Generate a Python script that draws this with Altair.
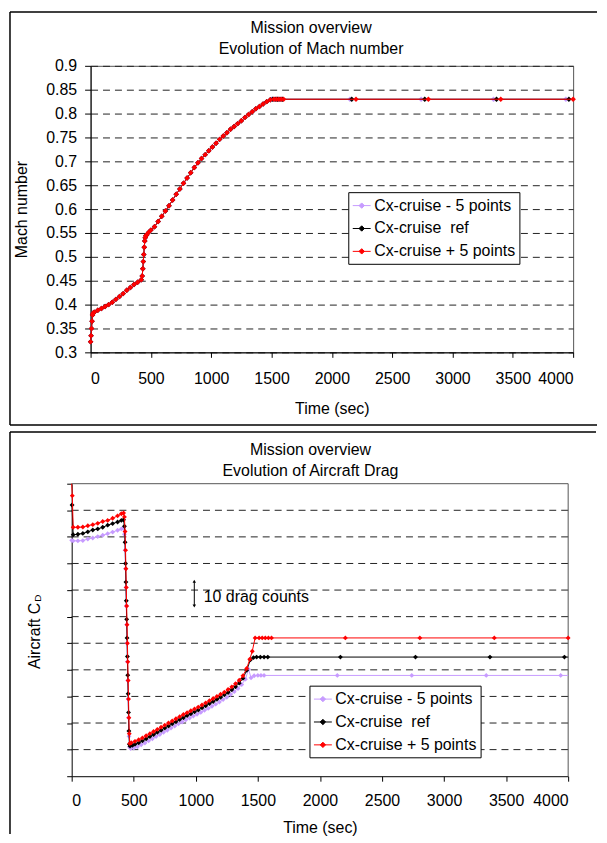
import altair as alt
import pandas as pd

FONT = "Liberation Sans"
FS = 16

series_names = ["Cx-cruise - 5 points", "Cx-cruise\u00a0 ref", "Cx-cruise + 5 points"]
series_colors = ["#C79BFF", "#000000", "#FF0000"]

time_ticks = [0, 500, 1000, 1500, 2000, 2500, 3000, 3500, 4000]
mach_ticks = [0.3, 0.35, 0.4, 0.45, 0.5, 0.55, 0.6, 0.65, 0.7, 0.75, 0.8, 0.85, 0.9]
drag_ticks = [0, 10, 20, 30, 40, 50, 60, 70, 80, 90, 100, 110]

top_title = ["Mission overview", "Evolution of Mach number"]
bottom_title = ["Mission overview", "Evolution of Aircraft Drag"]

# ---------------- Mach number (climb shared by the three runs) ----------------
mach_climb_time = [0, 4, 8, 12, 16, 20, 30, 60, 90, 120, 150, 180, 210, 240, 270, 300,
                   330, 360, 390, 420, 428, 433, 437, 441, 445, 449, 453, 458, 465, 480,
                   500, 530, 560, 590, 620, 650, 680, 710, 740, 770, 800, 830, 860, 890,
                   920, 950, 980, 1010, 1040, 1070, 1100, 1130, 1160, 1190, 1220, 1250,
                   1280, 1310, 1340, 1370, 1400, 1430, 1460, 1490]
mach_climb_value = [0.322, 0.335, 0.350, 0.365, 0.378, 0.382, 0.384, 0.388, 0.392, 0.396,
                    0.400, 0.405, 0.411, 0.417, 0.423, 0.430, 0.436, 0.442, 0.447, 0.452,
                    0.460, 0.475, 0.490, 0.505, 0.520, 0.533, 0.540, 0.544, 0.546, 0.551,
                    0.556, 0.563, 0.574, 0.585, 0.596, 0.607, 0.619, 0.631, 0.642, 0.654,
                    0.665, 0.676, 0.687, 0.697, 0.706, 0.714, 0.722, 0.730, 0.738, 0.746,
                    0.753, 0.760, 0.767, 0.773, 0.779, 0.785, 0.792, 0.798, 0.804, 0.810,
                    0.815, 0.820, 0.825, 0.829]
mach_cruise_time_minus = [1500, 1520, 1540, 1560, 1580, 2150, 2740, 3340, 3940]
mach_cruise_value_minus = [0.83, 0.83, 0.83, 0.83, 0.83, 0.83, 0.83, 0.83, 0.83]
mach_cruise_time_ref = [1510, 1530, 1550, 1570, 1590, 2165, 2770, 3365, 3965]
mach_cruise_value_ref = [0.83, 0.83, 0.83, 0.83, 0.83, 0.83, 0.83, 0.83, 0.83]
mach_cruise_time_plus = [1520, 1540, 1560, 1580, 1600, 2200, 2800, 3400, 4000]
mach_cruise_value_plus = [0.83, 0.83, 0.83, 0.83, 0.83, 0.83, 0.83, 0.83, 0.83]

# ---------------- Aircraft drag (in drag counts, 10 per grid line) ----------------
drag_time_minus = [0, 12, 50, 90, 130, 170, 210, 250, 290, 330, 370, 400, 418,
                   425, 430, 434, 437, 440, 443, 446, 449, 452, 455, 458, 462, 467,
                   475, 500, 530, 560, 590, 620, 650, 680, 710, 740, 770, 800, 830,
                   860, 890, 920, 950, 980, 1010, 1040, 1070, 1100, 1130, 1160, 1190,
                   1220, 1250, 1280, 1310, 1340, 1370, 1400, 1425, 1445, 1470, 1500,
                   1525, 1550, 2140, 2740, 3340, 3940]
drag_value_minus = [88.7, 88.5, 88.5, 88.6, 89.2, 89.6, 90.1, 90.6, 91.2, 91.8, 92.5, 93.0, 93.4,
                    91, 85, 78, 71, 64, 57, 50, 43, 36, 29, 22, 15, 11,
                    10.4, 10.6, 11.1, 11.8, 12.5, 13.3, 14.1, 14.9, 15.7, 16.5, 17.3, 18.1, 18.9,
                    19.7, 20.4, 21.2, 21.9, 22.6, 23.3, 24.0, 24.8, 25.5, 26.3, 27.1, 27.9,
                    28.8, 29.7, 30.7, 31.8, 33.0, 34.5, 36.5, 40.2, 37.0, 37.8, 37.9,
                    37.9, 37.9, 37.9, 37.9, 37.9, 37.9]
drag_line_end_time_minus = [4000]
drag_line_end_value_minus = [37.9]

drag_time_ref = [3, 12, 50, 90, 130, 170, 210, 250, 290, 330, 370, 400, 418,
                 425, 430, 434, 437, 440, 443, 446, 449, 452, 455, 458, 461, 465,
                 470, 490, 510, 540, 570, 600, 630, 660, 690, 720, 750, 780, 810, 840,
                 870, 900, 930, 960, 990, 1020, 1050, 1080, 1110, 1140, 1170, 1200, 1230,
                 1260, 1290, 1320, 1350, 1380, 1410, 1440, 1465, 1490, 1520, 1550, 1580,
                 2165, 2770, 3370, 3970]
drag_value_ref = [102, 90.8, 91.0, 91.3, 91.9, 92.6, 93.0, 93.6, 94.4, 95.0, 95.6, 96.2, 96.4,
                  94, 88, 80, 73, 66, 59, 52, 45, 38, 31, 24, 17, 12,
                  11.3, 11.6, 12.0, 12.6, 13.3, 14.1, 14.9, 15.7, 16.5, 17.3, 18.1, 18.9, 19.7, 20.5,
                  21.3, 22.0, 22.8, 23.5, 24.2, 24.9, 25.7, 26.5, 27.3, 28.1, 28.9, 29.7, 30.6,
                  31.5, 32.5, 33.6, 35.0, 36.8, 39.8, 43.8, 44.6, 44.8, 44.8, 44.8, 44.8,
                  44.8, 44.8, 44.8, 44.8]
drag_line_end_time_ref = [4000]
drag_line_end_value_ref = [44.8]

drag_time_plus = [5, 12, 50, 90, 130, 170, 210, 250, 290, 330, 370, 400, 418,
                  425, 430, 434, 437, 440, 443, 446, 449, 452, 455, 458, 461, 464, 468,
                  480, 510, 540, 570, 600, 630, 660, 690, 720, 750, 780, 810, 840, 870,
                  900, 930, 960, 990, 1020, 1050, 1080, 1110, 1140, 1170, 1200, 1230, 1260,
                  1290, 1320, 1350, 1380, 1410, 1435, 1455, 1478, 1510, 1535, 1560, 1585,
                  1610, 2205, 2805, 3405, 4000]
drag_value_plus = [105.5, 93.6, 93.6, 93.7, 94.2, 94.6, 95.1, 95.8, 96.2, 97.0, 97.9, 98.7, 99.0,
                   97.5, 92, 85, 78, 71, 64, 57, 50, 43, 36, 29, 22, 16, 12.3,
                   12.6, 13.1, 13.7, 14.4, 15.2, 16.0, 16.8, 17.6, 18.4, 19.2, 20.0, 20.8, 21.6, 22.4,
                   23.2, 23.9, 24.6, 25.3, 26.0, 26.8, 27.6, 28.4, 29.2, 30.0, 30.8, 31.6, 32.6,
                   33.6, 34.8, 36.1, 37.8, 40.5, 44.0, 47.0, 52.0, 52, 52, 52, 52,
                   52, 52, 52, 52, 52]
drag_line_start_time_plus = [0]
drag_line_start_value_plus = [110]

# annotation "10 drag counts"
arrow_time = [988]
arrow_low = [64.0]
arrow_high = [73.3]
note_time = [1064]
note_value = [67.3]
note_text = ["10 drag counts"]


def series_frame(name, times, values, line_times=(), line_values=()):
    a = pd.DataFrame({"time": times, "value": values})
    a["marker"] = 1
    b = pd.DataFrame({"time": list(line_times), "value": list(line_values)})
    b["marker"] = 0
    out = pd.concat([a, b], ignore_index=True).sort_values("time")
    out["series"] = name
    return out


mach_df = pd.concat([
    series_frame(series_names[0], mach_climb_time + mach_cruise_time_minus,
                 mach_climb_value + mach_cruise_value_minus),
    series_frame(series_names[1], mach_climb_time + mach_cruise_time_ref,
                 mach_climb_value + mach_cruise_value_ref),
    series_frame(series_names[2], mach_climb_time + mach_cruise_time_plus,
                 mach_climb_value + mach_cruise_value_plus),
], ignore_index=True)

drag_df = pd.concat([
    series_frame(series_names[0], drag_time_minus, drag_value_minus,
                 drag_line_end_time_minus, drag_line_end_value_minus),
    series_frame(series_names[1], drag_time_ref, drag_value_ref,
                 drag_line_end_time_ref, drag_line_end_value_ref),
    series_frame(series_names[2], drag_time_plus, drag_value_plus,
                 drag_line_start_time_plus, drag_line_start_value_plus),
], ignore_index=True)

color_scale = alt.Scale(domain=series_names, range=series_colors)
SYMBOL = "M-1,0L1,0M0,-0.3L0.3,0L0,0.3L-0.3,0Z"
one_row = pd.DataFrame({"k": [0]})


def make_legend(x, y):
    return alt.Legend(title=None, orient="none", legendX=x, legendY=y,
                      symbolType=SYMBOL, symbolSize=324, symbolStrokeWidth=1,
                      symbolOpacity=1, labelFont=FONT, labelFontSize=FS,
                      labelColor="black", padding=4, rowPadding=5, labelOffset=3,
                      strokeColor="black", fillColor="white", cornerRadius=0)


def series_layers(df, x_enc, y_enc, legend, msize):
    layers = []
    for name in series_names:
        base = alt.Chart(df).transform_filter(alt.datum.series == name)
        layers.append(base.mark_line(strokeWidth=1).encode(
            x=x_enc, y=y_enc,
            stroke=alt.Stroke("series:N", scale=color_scale, legend=legend)))
        layers.append(base.transform_filter(alt.datum.marker == 1).mark_point(
            filled=True, shape="diamond", size=msize, opacity=1).encode(
            x=x_enc, y=y_enc,
            fill=alt.Fill("series:N", scale=color_scale, legend=legend)))
    return layers


def border(left, top, right, bottom, bottom_edge=True):
    rule = alt.Chart(one_row).mark_rule(color="black", strokeWidth=1.5)
    parts = [rule.encode(x=alt.value(left), x2=alt.value(right), y=alt.value(top)),
             rule.encode(x=alt.value(left), y=alt.value(top), y2=alt.value(bottom))]
    if bottom_edge:
        parts.append(rule.encode(x=alt.value(left), x2=alt.value(right), y=alt.value(bottom)))
    return parts


def title_lines(lines, x, y1, y2):
    t = alt.Chart(one_row)
    return [t.mark_text(text=lines[0], font=FONT, fontSize=FS, align="center",
                        baseline="middle", color="black").encode(x=alt.value(x), y=alt.value(y1)),
            t.mark_text(text=lines[1], font=FONT, fontSize=FS, align="center",
                        baseline="middle", color="black").encode(x=alt.value(x), y=alt.value(y2))]


GRID_COLOR = "#222222"
GRID_DASH = [7, 5]

# ---------------- top chart ----------------
x_top = alt.X("time:Q", scale=alt.Scale(domain=[0, 4000], nice=False),
              axis=alt.Axis(values=time_ticks, format="d", title="Time (sec)", grid=False,
                            tickSize=5, labelPadding=13, titleY=56, titleBaseline="middle"))
y_top = alt.Y("value:Q", scale=alt.Scale(domain=[0.3, 0.9], nice=False, zero=False),
              axis=alt.Axis(values=mach_ticks, format=".2~f", title="Mach number",
                            tickSize=6, labelPadding=8, titleX=-69, titleY=144,
                            titleAngle=270, titleBaseline="middle", titleAlign="center",
                            grid=True, gridDash=GRID_DASH, gridColor=GRID_COLOR, gridWidth=1))

top = alt.layer(
    *border(-81, -54, 509, 361),
    *title_lines(top_title, 221.6, -37.7, -16.7),
    *series_layers(mach_df, x_top, y_top, make_legend(259, 127), 30),
).properties(width=485, height=288)

# ---------------- bottom chart ----------------
# plot area starts 19 px left of the top chart's one (no tick labels on this y axis)
x_axis_bot = alt.Axis(values=time_ticks, format="d", title="Time (sec)", grid=False,
                      tickSize=5, labelPadding=11, titleY=52, titleBaseline="middle")
y_axis_bot = alt.Axis(values=drag_ticks, labels=False, title=None, tickSize=5,
                      grid=False, offset=19)
x_scale_bot = alt.Scale(domain=[0, 4000], nice=False, range=[-19, 480])
y_scale_bot = alt.Scale(domain=[0, 110], nice=False, zero=False)
x_bot = alt.X("time:Q", scale=x_scale_bot, axis=x_axis_bot)
y_bot = alt.Y("value:Q", scale=y_scale_bot, axis=y_axis_bot)

grid_df = pd.DataFrame({"value": drag_ticks})
grid_df["start"] = time_ticks[0]
grid_df["end"] = time_ticks[-1]
gridlines = alt.Chart(grid_df).transform_filter(
    "datum.value > 0 && datum.value < 110"
).mark_rule(color=GRID_COLOR, strokeWidth=1, strokeDash=GRID_DASH).encode(
    x=alt.X("start:Q", scale=x_scale_bot, axis=x_axis_bot), x2="end:Q",
    y=alt.Y("value:Q", scale=y_scale_bot, axis=y_axis_bot))
frame_top = alt.Chart(grid_df).transform_filter("datum.value == 110").mark_rule(
    color="#555555", strokeWidth=1).encode(
    x=alt.X("start:Q", scale=x_scale_bot, axis=x_axis_bot), x2="end:Q",
    y=alt.Y("value:Q", scale=y_scale_bot, axis=y_axis_bot))
frame_right_df = pd.DataFrame({"time": [time_ticks[-1]], "low": [drag_ticks[0]],
                               "high": [drag_ticks[-1]]})
frame_right = alt.Chart(frame_right_df).mark_rule(color="#555555", strokeWidth=1).encode(
    x=alt.X("time:Q", scale=x_scale_bot, axis=x_axis_bot),
    y=alt.Y("low:Q", scale=y_scale_bot, axis=y_axis_bot), y2="high:Q")

arrow_df = pd.DataFrame({"time": arrow_time, "low": arrow_low, "high": arrow_high})
note_df = pd.DataFrame({"time": note_time, "value": note_value, "label": note_text})

arrow_rule = alt.Chart(arrow_df).mark_rule(color="black", strokeWidth=1).encode(
    x=alt.X("time:Q", scale=x_scale_bot, axis=x_axis_bot),
    y=alt.Y("low:Q", scale=y_scale_bot, axis=y_axis_bot), y2="high:Q")
arrow_up = alt.Chart(arrow_df).mark_point(shape="triangle-up", filled=True, size=12,
                                          color="black", opacity=1).encode(
    x=alt.X("time:Q", scale=x_scale_bot, axis=x_axis_bot),
    y=alt.Y("high:Q", scale=y_scale_bot, axis=y_axis_bot))
arrow_down = alt.Chart(arrow_df).mark_point(shape="triangle-down", filled=True, size=12,
                                            color="black", opacity=1).encode(
    x=alt.X("time:Q", scale=x_scale_bot, axis=x_axis_bot),
    y=alt.Y("low:Q", scale=y_scale_bot, axis=y_axis_bot))
note = alt.Chart(note_df).mark_text(align="left", baseline="middle", font=FONT,
                                    fontSize=FS, color="black").encode(
    x=alt.X("time:Q", scale=x_scale_bot, axis=x_axis_bot),
    y=alt.Y("value:Q", scale=y_scale_bot, axis=y_axis_bot), text="label:N")

ytitle_main = alt.Chart(one_row).mark_text(text="Aircraft C", angle=270, font=FONT,
                                           fontSize=FS, align="center", baseline="middle",
                                           color="black").encode(
    x=alt.value(-56), y=alt.value(153))
ytitle_sub = alt.Chart(one_row).mark_text(text="D", angle=270, font=FONT, fontSize=10,
                                          align="center", baseline="middle",
                                          color="black").encode(
    x=alt.value(-53), y=alt.value(115))

bottom = alt.layer(
    *border(-81, -52, 508, 352, bottom_edge=False),
    gridlines, frame_top, frame_right,
    *title_lines(bottom_title, 221, -34, -12.6),
    *series_layers(drag_df, x_bot, y_bot, make_legend(220, 203), 24),
    arrow_rule, arrow_up, arrow_down, note, ytitle_main, ytitle_sub,
).properties(width=480, height=294, view=alt.ViewBackground(stroke="transparent"))

chart = alt.concat(top, bottom, columns=1, align="none", spacing=3).resolve_scale(
    stroke="independent", fill="independent", x="independent", y="independent"
).resolve_legend(stroke="independent", fill="independent").properties(
    padding=0, background="white"
).configure_view(stroke="#555555", strokeWidth=1).configure_axis(
    labelFont=FONT, titleFont=FONT, labelFontSize=FS, titleFontSize=FS,
    titleFontWeight="normal", labelColor="black", titleColor="black",
    domainColor="black", tickColor="black", domainWidth=1, tickWidth=1,
)

chart.save("out.html", embed_options={"renderer": "svg", "actions": False})
